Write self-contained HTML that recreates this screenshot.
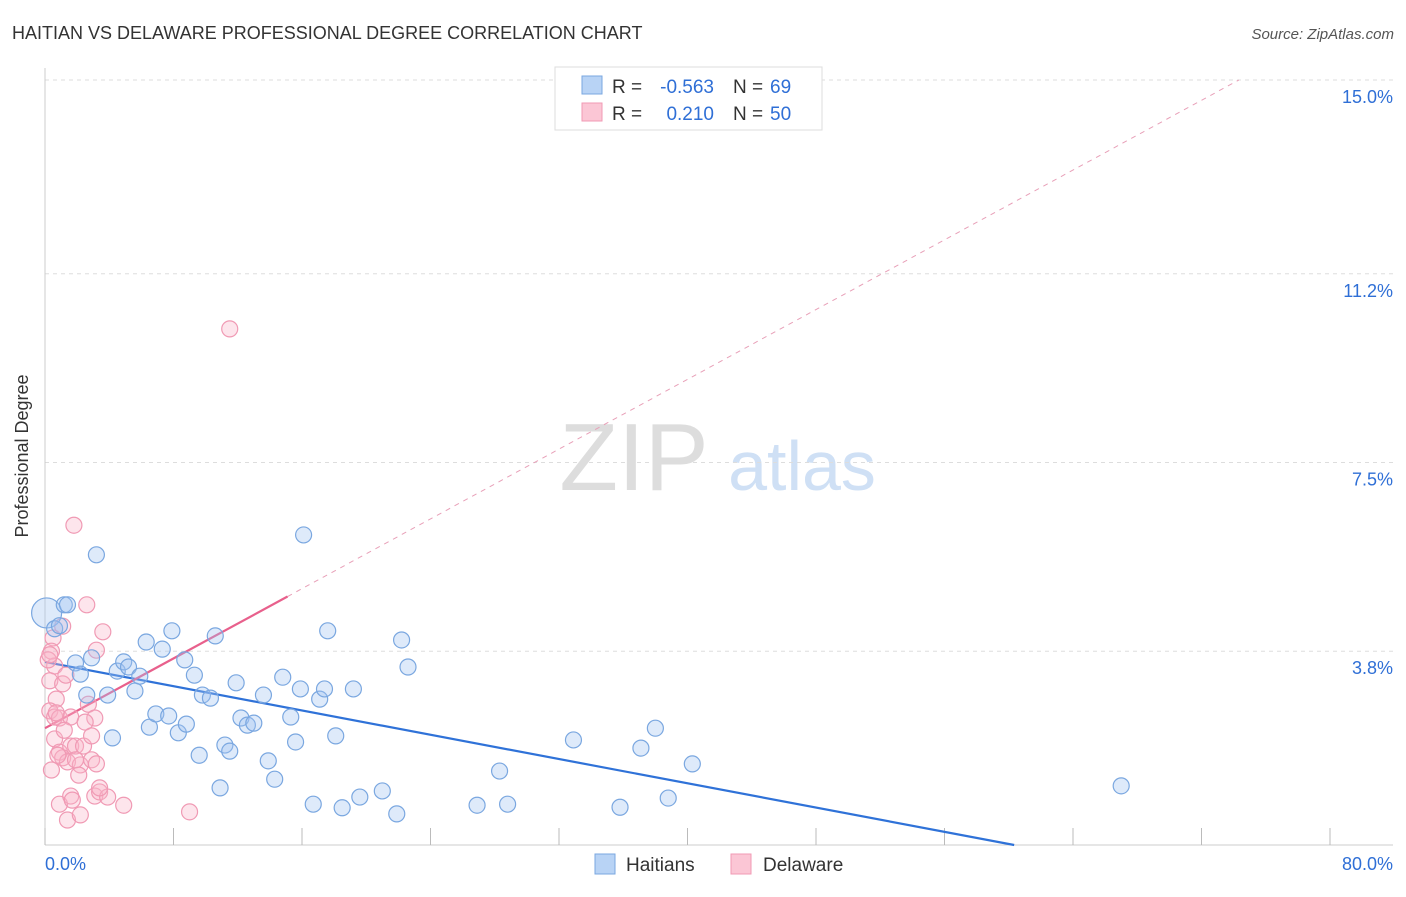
<!DOCTYPE html>
<html><head><meta charset="utf-8"><style>
body{margin:0;background:#fff;font-family:"Liberation Sans",sans-serif;}
svg text{font-family:"Liberation Sans",sans-serif;}
</style></head><body>
<svg id="c" width="1406" height="892" xmlns="http://www.w3.org/2000/svg">
<text x="12" y="39" font-size="18" fill="#333">HAITIAN VS DELAWARE PROFESSIONAL DEGREE CORRELATION CHART</text>
<text x="1394" y="39" font-size="15" fill="#555" text-anchor="end" font-style="italic">Source: ZipAtlas.com</text>
<text x="28" y="456" font-size="18" fill="#333" text-anchor="middle" transform="rotate(-90 28 456)">Professional Degree</text>
<g><text x="634" y="490" font-size="96" fill="#ddd" text-anchor="middle" font-family="Liberation Serif">ZIP</text><text x="802" y="490" font-size="70" fill="#cfe0f5" text-anchor="middle">atlas</text></g>
<g id="grid"></g><g id="axes"></g><g id="lines"></g><g id="pts"></g>
<g>
<rect x="555" y="67" width="267" height="63" fill="#fff" stroke="#ddd"/>
<rect x="582" y="76" width="20" height="18" fill="#b8d3f5" stroke="#7aa7e0"/>
<rect x="582" y="103" width="20" height="18" fill="#fbc6d5" stroke="#f09ab4"/>
<text x="612" y="93" font-size="19" fill="#333">R =</text><text x="714" y="93" font-size="19" fill="#2f6fd6" text-anchor="end">-0.563</text>
<text x="733" y="93" font-size="19" fill="#333">N =</text><text x="770" y="93" font-size="19" fill="#2f6fd6">69</text>
<text x="612" y="120" font-size="19" fill="#333">R =</text><text x="714" y="120" font-size="19" fill="#2f6fd6" text-anchor="end">0.210</text>
<text x="733" y="120" font-size="19" fill="#333">N =</text><text x="770" y="120" font-size="19" fill="#2f6fd6">50</text>
</g>
<g>
<rect x="595" y="854" width="20" height="20" fill="#b8d3f5" stroke="#7aa7e0"/><text x="626" y="871" font-size="19" fill="#333">Haitians</text>
<rect x="731" y="854" width="20" height="20" fill="#fbc6d5" stroke="#f09ab4"/><text x="763" y="871" font-size="19" fill="#333">Delaware</text>
</g>
</svg>
<script>
const yTicks=[3.8,7.5,11.2,15.0];
const yTickLabels=["3.8%","7.5%","11.2%","15.0%"];
const xLabels=["0.0%","80.0%"];
const blueX=[0.1,0.6,0.9,1.2,1.4,3.2,1.9,2.2,2.9,2.6,3.9,4.2,4.5,4.9,5.2,5.6,5.9,6.3,6.5,6.9,7.3,7.7,7.9,8.3,8.7,8.8,9.3,9.6,9.8,10.3,10.6,10.9,11.2,11.5,11.9,12.2,12.6,13.0,13.6,13.9,14.3,14.8,15.3,15.6,15.9,16.1,16.7,17.1,17.4,17.6,18.1,18.5,19.2,19.6,21.0,21.9,22.2,22.6,26.9,28.3,28.8,32.9,35.8,37.1,38.0,38.8,40.3,67.0];
const blueY=[4.55,4.24,4.3,4.71,4.71,5.69,3.57,3.35,3.67,2.94,2.94,2.1,3.41,3.59,3.49,3.02,3.31,3.98,2.31,2.57,3.84,2.53,4.2,2.2,3.63,2.37,3.33,1.76,2.94,2.88,4.1,1.12,1.96,1.84,3.18,2.49,2.35,2.39,2.94,1.65,1.29,3.29,2.51,2.02,3.06,6.08,0.8,2.86,3.06,4.2,2.14,0.73,3.06,0.94,1.06,0.61,4.02,3.49,0.78,1.45,0.8,2.06,0.74,1.9,2.29,0.92,1.59,1.16];
const blueR=[15];
const pinkX=[1.8,2.6,11.5,3.6,3.2,1.1,0.5,0.4,0.6,0.3,1.1,0.7,2.7,0.3,0.6,0.9,1.6,3.1,2.5,0.6,0.9,1.6,1.9,2.4,1.1,1.4,2.2,2.9,3.2,2.1,0.9,1.6,1.7,3.1,3.4,3.9,4.9,1.4,2.2,9.0,0.4,0.8,1.3,0.2,0.3,0.7,2.9,1.9,1.2,3.4];
const pinkY=[6.27,4.71,10.12,4.18,3.82,4.29,4.06,3.8,3.51,3.22,3.16,2.86,2.76,2.63,2.51,2.49,2.51,2.49,2.41,2.08,1.82,1.94,1.94,1.94,1.71,1.63,1.57,1.67,1.59,1.37,0.8,0.96,0.88,0.96,1.04,0.94,0.78,0.49,0.59,0.65,1.47,1.76,3.33,3.63,3.73,2.59,2.14,1.67,2.25,1.12];
const blueTrend=[3.59,-0.0595];
const pinkTrend=[2.29,0.171];
const X=v=>45+v/80*1285, Y=v=>845-v/15*765;
const NS="http://www.w3.org/2000/svg";
function mk(t,a,p){const e=document.createElementNS(NS,t);for(const k in a)e.setAttribute(k,a[k]);p.appendChild(e);return e;}
const grid=document.getElementById('grid'),axes=document.getElementById('axes'),lines=document.getElementById('lines'),pts=document.getElementById('pts');
yTicks.forEach((t,i)=>{const l=mk('line',{x1:45,x2:1393,y1:Y(t),y2:Y(t),stroke:'#ddd','stroke-dasharray':'4,4'},grid);


const tx=mk('text',{x:1393,y:Y(t)+23,'font-size':18,fill:'#2f6fd6','text-anchor':'end'},axes);tx.textContent=yTickLabels[i];

});
mk('line',{x1:45,x2:45,y1:68,y2:845,stroke:'#ccc'},axes);
mk('line',{x1:45,x2:1393,y1:845,y2:845,stroke:'#ccc'},axes);
for(let i=0;i<=10;i++){const l=mk('line',{x1:X(i*8),x2:X(i*8),y1:828,y2:845,stroke:'#bbb'},axes);

}
let t1=mk('text',{x:45,y:870,'font-size':18,fill:'#2f6fd6'},axes);t1.textContent=xLabels[0];


let t2=mk('text',{x:1393,y:870,'font-size':18,fill:'#2f6fd6','text-anchor':'end'},axes);t2.textContent=xLabels[1];


const bEnd=-blueTrend[0]/blueTrend[1];
let bl=mk('line',{x1:X(0),y1:Y(blueTrend[0]),x2:X(bEnd),y2:Y(0),stroke:'#2f72d8','stroke-width':2.2},lines);


const pd=(15-pinkTrend[0])/pinkTrend[1];
let pl2=mk('line',{x1:X(15.1),y1:Y(pinkTrend[0]+pinkTrend[1]*15.1),x2:X(pd),y2:Y(15),stroke:'#e8a0b8','stroke-width':1,'stroke-dasharray':'5,5'},lines);


let pl=mk('line',{x1:X(0),y1:Y(pinkTrend[0]),x2:X(15.1),y2:Y(pinkTrend[0]+pinkTrend[1]*15.1),stroke:'#e8608c','stroke-width':2.2},lines);


pinkX.forEach((x,i)=>{const c=mk('circle',{cx:X(x),cy:Y(pinkY[i]),r:8,fill:'rgba(248,180,200,0.35)',stroke:'#f09ab4','stroke-width':1.2},pts);

});
blueX.forEach((x,i)=>{const c=mk('circle',{cx:X(x),cy:Y(blueY[i]),r:blueR[i]||8,fill:'rgba(160,195,240,0.35)',stroke:'#7aa7e0','stroke-width':1.2},pts);

});
</script>
</body></html>
